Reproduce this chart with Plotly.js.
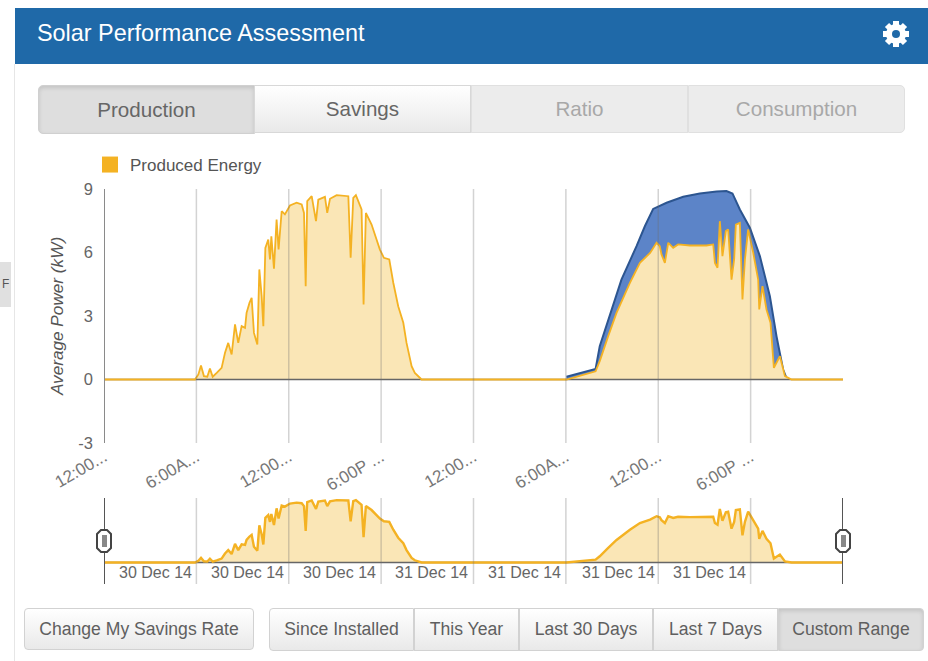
<!DOCTYPE html>
<html><head><meta charset="utf-8">
<script src="https://cdn.plot.ly/plotly-3.0.1.min.js"></script>
<style>
html,body{margin:0;padding:0;background:#fff;width:928px;height:661px;overflow:hidden;font-family:"Liberation Sans",Arial,sans-serif}
#stage{position:relative;width:928px;height:661px}
.abs{position:absolute;box-sizing:border-box}
#header{left:15px;top:8px;width:913px;height:56px;background:#1f69a8}
#edge{left:14px;top:64px;width:1px;height:597px;background:#e6e6e6}
#stub{left:0;top:262px;width:11px;height:45px;background:#e0e0e0;color:#555;font-size:12px;line-height:45px;padding-left:2px;overflow:hidden}
.seg{display:flex;align-items:center;justify-content:center;color:#666;font-size:20.6px;border:1px solid #d8d8d8;background:linear-gradient(#fff,#e9e9e9);white-space:nowrap}
.on{background:#dedede;box-shadow:inset 0 2px 4px rgba(0,0,0,.12);border-color:#d0d0d0}
.off{background:#ececec;color:#a8a8a8;border-color:#e0e0e0}
.btn{font-size:17.6px;color:#5f5f5f;border-color:#d2d2d2}
#plot{left:0;top:0;width:928px;height:661px}
svg.over{position:absolute;left:0;top:0;pointer-events:none}
</style></head><body>
<div id="stage">
<div class="abs" id="edge"></div>
<div class="abs" id="stub">F</div>
<div class="abs" id="header"></div>
<div class="abs seg on" style="left:38px;top:85px;width:217px;height:49px;border-radius:5px 0 0 5px">Production</div>
<div class="abs seg" style="left:254px;top:85px;width:217px;height:48px">Savings</div>
<div class="abs seg off" style="left:471px;top:85px;width:217px;height:48px">Ratio</div>
<div class="abs seg off" style="left:688px;top:85px;width:217px;height:48px;border-radius:0 5px 5px 0">Consumption</div>
<div class="abs seg btn" style="left:24px;top:608px;width:230px;height:42px;border-radius:4px">Change My Savings Rate</div>
<div class="abs seg btn" style="left:269px;top:608px;width:145px;height:43px;border-radius:4px 0 0 4px">Since Installed</div>
<div class="abs seg btn" style="left:414px;top:608px;width:105px;height:43px">This Year</div>
<div class="abs seg btn" style="left:519px;top:608px;width:134px;height:43px">Last 30 Days</div>
<div class="abs seg btn" style="left:653px;top:608px;width:125px;height:43px">Last 7 Days</div>
<div class="abs seg btn on" style="left:778px;top:608px;width:146px;height:43px;border-radius:0 4px 4px 0">Custom Range</div>
<div class="abs" id="plot"></div>
<svg class="over" width="928" height="661">
<g fill="#fff"><circle cx="896" cy="34" r="10"/>
<g stroke="#fff" stroke-width="6"><line x1="896" y1="21" x2="896" y2="47"/><line x1="883" y1="34" x2="909" y2="34"/><line x1="887" y1="25" x2="905" y2="43"/><line x1="905" y1="25" x2="887" y2="43"/></g>
<circle cx="896" cy="34" r="4" fill="#1f69a8"/></g>
<g fill="#fff" stroke="#444" stroke-width="2">
<path d="M97 534 l4-4 h6 l4 4 v14 l-4 4 h-6 l-4-4z"/><path d="M836 534 l4-4 h6 l4 4 v14 l-4 4 h-6 l-4-4z"/></g>
<g fill="#888"><rect x="102" y="535" width="5" height="12"/><rect x="841" y="535" width="5" height="12"/></g>
</svg>
</div>
<script>
const tickHours = [0, 6, 12, 18, 24, 30, 36, 42];
const tickLabels = ['12:00...', '6:00A...', '12:00...', '6:00P ...', '12:00...', '6:00A...', '12:00...', '6:00P ...'];
const overviewHours = [3.35, 9.3, 15.3, 21.3, 27.3, 33.4, 39.35];
const overviewLabels = ['30 Dec 14', '30 Dec 14', '30 Dec 14', '31 Dec 14', '31 Dec 14', '31 Dec 14', '31 Dec 14'];
const yTicks = [-3, 0, 3, 6, 9];
const yTickLabels = ['-3', '0', '3', '6', '9'];

const producedHours = [0, 5.91, 6.13, 6.30, 6.49, 6.71, 6.88, 7.06, 7.32, 7.64, 7.86, 8.07, 8.29, 8.51, 8.72, 8.94, 9.16, 9.26, 9.45, 9.59, 9.74, 9.96, 10.09, 10.24, 10.35, 10.48, 10.67, 10.78, 10.87, 11.04, 11.21, 11.34, 11.54, 11.75, 12.08, 12.51, 12.84, 12.99, 13.10, 13.20, 13.49, 13.77, 13.92, 14.35, 14.50, 14.68, 15.11, 15.87, 16.02, 16.19, 16.36, 16.62, 16.73, 16.86, 17.01, 17.38, 17.92, 18.18, 18.53, 18.79, 19.11, 19.44, 19.65, 19.98, 20.19, 20.63,
  30.04, 31.93, 32.20, 32.75, 33.29, 34.16, 34.81, 35.47, 35.89, 36.10, 36.21, 36.43, 36.65, 36.97, 37.29, 38.05, 39.13, 39.57, 39.68, 39.85, 40.00, 40.17, 40.39, 40.54, 40.76, 40.93, 41.04, 41.30, 41.47, 41.63, 41.84, 42.17, 42.49, 42.56, 42.77, 43.03, 43.29, 43.51, 43.90, 44.23, 44.66, 48];
const producedPower = [0, 0, 0.24, 0.66, 0.16, 0.13, 0.52, 0.13, 0.31, 0.55, 1.26, 1.73, 1.18, 2.60, 1.73, 2.52, 2.44, 3.15, 3.62, 3.86, 2.20, 1.65, 5.20, 3.94, 2.52, 6.22, 6.61, 5.67, 6.77, 5.23, 7.56, 6.14, 7.95, 7.80, 8.22, 8.35, 8.27, 7.87, 4.41, 8.43, 8.66, 7.48, 8.50, 8.63, 7.87, 8.54, 8.71, 8.66, 5.75, 8.58, 8.71, 8.19, 8.03, 3.54, 7.87, 7.32, 6.14, 5.75, 5.67, 4.57, 3.46, 2.68, 1.73, 0.63, 0.31, 0,
  0, 0.39, 0.87, 2.05, 3.15, 4.57, 5.51, 5.98, 6.46, 6.30, 5.91, 5.51, 6.46, 6.22, 6.38, 6.33, 6.33, 6.38, 5.51, 5.28, 7.48, 5.83, 7.01, 7.09, 4.72, 5.67, 7.32, 7.40, 3.78, 5.67, 7.09, 5.98, 4.72, 3.31, 4.41, 3.31, 2.68, 0.55, 1.10, 0.16, 0, 0];

const expectedHours = [30.04, 31.93, 32.20, 32.75, 33.61, 34.59, 35.13, 35.67, 36.54, 37.62, 38.70, 39.79, 40.43, 40.82, 41.30, 41.95, 42.60, 43.25, 43.68, 44.11, 44.37];
const expectedPower = [0.13, 0.50, 1.57, 2.83, 4.72, 6.30, 7.24, 8.06, 8.35, 8.63, 8.79, 8.88, 8.90, 8.79, 8.03, 7.17, 5.83, 3.94, 2.05, 0.47, 0];

const W = 928, H = 661;
const dx = [104 / W, 843 / W];
const ORANGE = '#f4b223', PALE = '#fae6b6', BLUE = '#5c84c8', NAVY = '#2c5590', AXIS = '#8a8a8a';

const traces = [
  {x: expectedHours, y: expectedPower, mode: 'lines', fill: 'tozeroy', fillcolor: BLUE, line: {color: NAVY, width: 2}, showlegend: false, hoverinfo: 'skip'},
  {x: producedHours, y: producedPower, mode: 'none', fill: 'tozeroy', fillcolor: PALE, showlegend: false, hoverinfo: 'skip'},
  {x: [0, 48], y: [0, 0], mode: 'lines', line: {color: '#666', width: 1.5}, showlegend: false, hoverinfo: 'skip'},
  {x: producedHours, y: producedPower, mode: 'lines', line: {color: ORANGE, width: 1.8}, showlegend: false},
  {x: [null], y: [null], mode: 'markers', name: 'Produced Energy', marker: {symbol: 'square', size: 16, color: ORANGE}},
  {x: producedHours, y: producedPower, xaxis: 'x2', yaxis: 'y2', mode: 'none', fill: 'tozeroy', fillcolor: PALE, showlegend: false, hoverinfo: 'skip'},
  {x: [0, 48], y: [0, 0], xaxis: 'x2', yaxis: 'y2', mode: 'lines', line: {color: '#666', width: 1.5}, showlegend: false, hoverinfo: 'skip'},
  {x: producedHours, y: producedPower, xaxis: 'x2', yaxis: 'y2', mode: 'lines', line: {color: ORANGE, width: 2.4}, showlegend: false, hoverinfo: 'skip'}
];

const gridShapes = [];
tickHours.forEach(h => {
  if (h > 0) {
    gridShapes.push({type: 'line', layer: 'above', xref: 'x', yref: 'paper', x0: h, x1: h, y0: 1 - 443 / H, y1: 1 - 189 / H, line: {color: 'rgba(110,110,110,0.3)', width: 1.5}});
    gridShapes.push({type: 'line', layer: 'above', xref: 'x2', yref: 'paper', x0: h, x1: h, y0: 1 - 584 / H, y1: 1 - 498 / H, line: {color: 'rgba(110,110,110,0.3)', width: 1.5}});
  }
});
gridShapes.push({type: 'line', layer: 'above', xref: 'x', yref: 'paper', x0: 0, x1: 0, y0: 1 - 443 / H, y1: 1 - 189 / H, line: {color: AXIS, width: 2}});
[0, 48].forEach(h => gridShapes.push({type: 'line', layer: 'above', xref: 'x2', yref: 'paper', x0: h, x1: h, y0: 1 - 584 / H, y1: 1 - 498 / H, line: {color: '#555', width: 2}}));

const layout = {
  width: W, height: H,
  margin: {l: 0, r: 0, t: 0, b: 0},
  paper_bgcolor: 'rgba(0,0,0,0)', plot_bgcolor: 'rgba(0,0,0,0)',
  font: {family: '"Liberation Sans", Arial, sans-serif', color: '#666'},
  title: {text: 'Solar Performance Assessment', x: 37 / W, xanchor: 'left', xref: 'paper', y: 1 - 33 / H, yanchor: 'middle', yref: 'paper', font: {size: 23.4, color: '#fff'}},
  showlegend: true,
  legend: {x: 90 / W, xanchor: 'left', y: 1 - 165 / H, yanchor: 'middle', bgcolor: 'rgba(0,0,0,0)', font: {size: 17, color: '#555'}, itemclick: false},
  xaxis: {domain: dx, range: [0, 48], tickmode: 'array', tickvals: tickHours, ticktext: tickLabels, tickangle: -30, showgrid: false, zeroline: false, showline: false, ticks: '', tickfont: {size: 17, color: '#777'}, anchor: 'y', fixedrange: true},
  yaxis: {domain: [1 - 443 / H, 1 - 189 / H], range: [-3, 9], tickmode: 'array', tickvals: yTicks, ticktext: yTickLabels, ticklabelstandoff: 10, showgrid: false, zeroline: false, showline: false, ticks: '', tickfont: {size: 16.5, color: '#666'}, title: {text: 'Average Power (kW)', font: {size: 17.2, color: '#555', style: 'italic'}, standoff: 10}, anchor: 'x', fixedrange: true},
  xaxis2: {domain: dx, range: [0, 48], showticklabels: false, showgrid: false, zeroline: false, ticks: '', anchor: 'y2', fixedrange: true},
  yaxis2: {domain: [1 - 584 / H, 1 - 498 / H], range: [-3, 9], showticklabels: false, showgrid: false, zeroline: false, ticks: '', anchor: 'x2', fixedrange: true},
  shapes: gridShapes,
  annotations: overviewHours.map((h, i) => ({x: h, y: -1.45, xref: 'x2', yref: 'y2', text: overviewLabels[i], showarrow: false, font: {size: 16, color: '#666'}}))
};
Plotly.newPlot('plot', traces, layout, {displayModeBar: false, staticPlot: true});
</script>
</body></html>
